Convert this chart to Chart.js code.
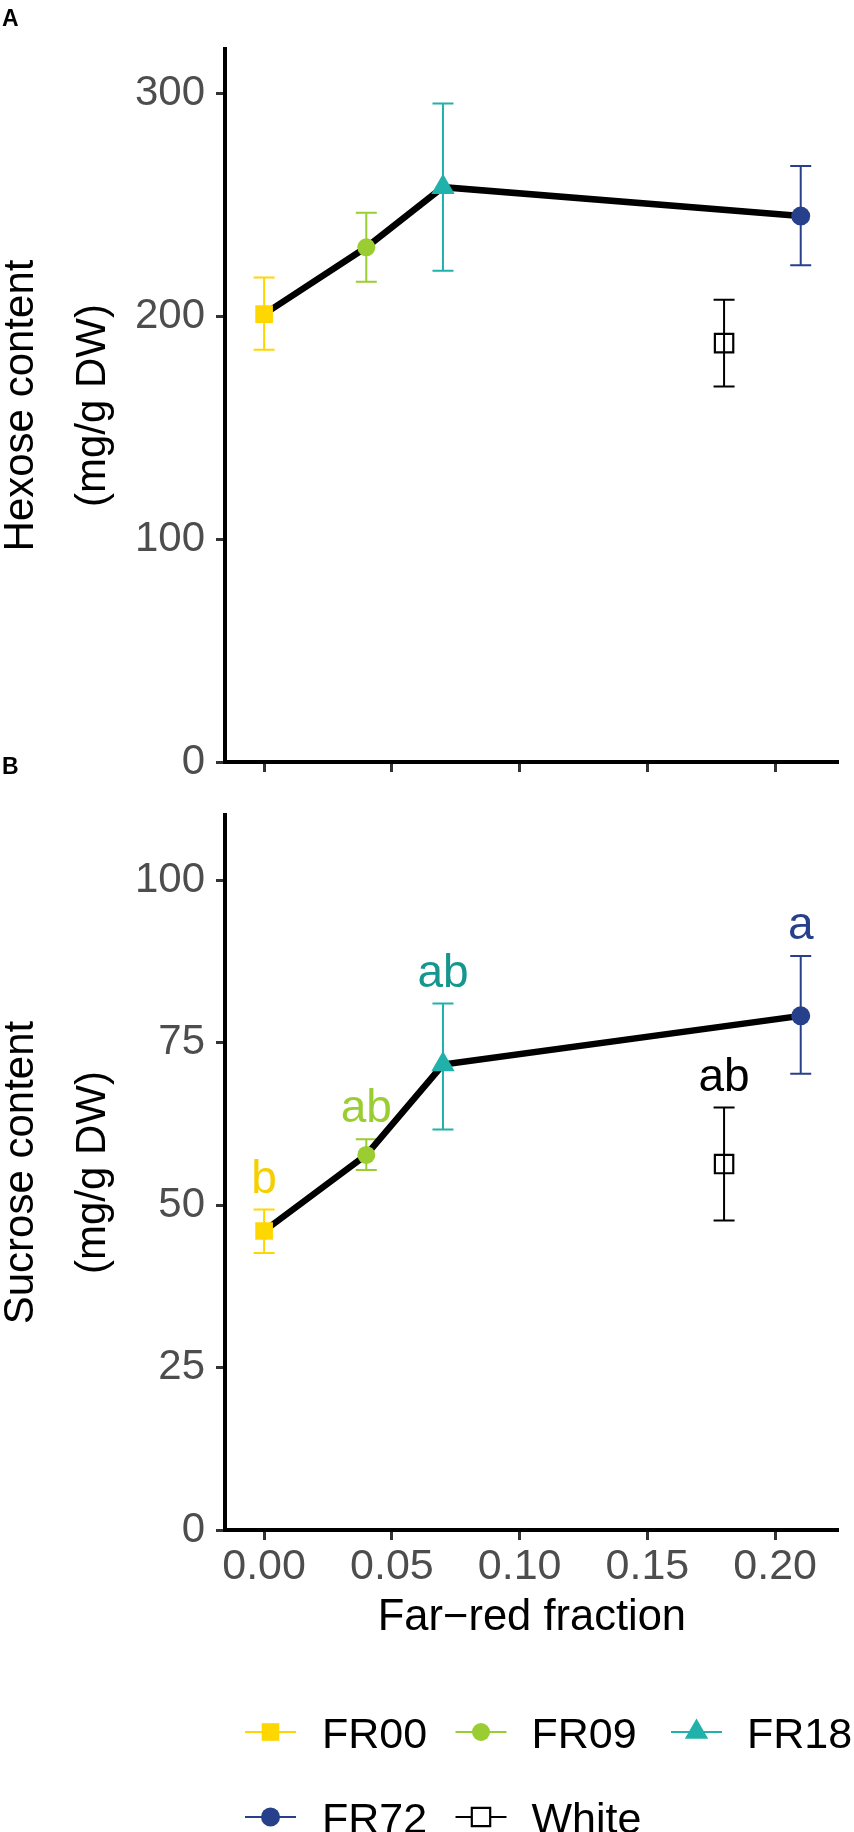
<!DOCTYPE html>
<html>
<head>
<meta charset="utf-8">
<script src="https://cdn.jsdelivr.net/npm/chart.js@4.4.0/dist/chart.umd.min.js"></script>
<style>
  html, body { margin: 0; padding: 0; background: #ffffff; }
  #wrap { position: relative; width: 854px; height: 1832px; overflow: hidden; }
  canvas { position: absolute; left: 0; top: 0; }
</style>
</head>
<body>
<div id="wrap">
  <canvas id="chartA" width="854" height="1832"></canvas>
  <canvas id="chartB" width="854" height="1832"></canvas>
</div>
<script>
// ---------------- data ----------------
const treatments = ['FR00', 'FR09', 'FR18', 'FR72', 'White'];
const farRedFraction = [0.00, 0.04, 0.07, 0.21, 0.18];

const hexoseMean = [201, 231, 258, 245, 188];
const hexoseLower = [185, 215.5, 220.5, 223, 168.5];
const hexoseUpper = [217.5, 246.5, 295.5, 267.5, 207.5];

const sucroseMean = [46.0, 57.7, 71.6, 79.1, 56.3];
const sucroseLower = [42.6, 55.4, 61.6, 70.2, 47.6];
const sucroseUpper = [49.3, 60.1, 81.0, 88.3, 65.0];
const sucroseLetters = ['b', 'ab', 'ab', 'a', 'ab'];

// treatments joined by the black line (far-red series)
const lineSeries = ['FR00', 'FR09', 'FR18', 'FR72'];

const hexoseTicks = [0, 100, 200, 300];
const sucroseTicks = [0, 25, 50, 75, 100];
const fractionTicks = [0.00, 0.05, 0.10, 0.15, 0.20];

// ---------------- styles ----------------
const FONT = "'Liberation Sans', Arial, Helvetica, sans-serif";
const seriesColors = ['#FFD700', '#9ACD32', '#20B2AA', '#27408B', '#000000'];
const letterColors = ['#F5CF00', '#9ACD32', '#15968E', '#27408B', '#000000'];
const pointStyles = ['rect', 'circle', 'triangle', 'circle', 'rect'];
const pointRadii = [12.5, 9, 13.5, 9.5, 13];
const pointFills = ['#FFD700', '#9ACD32', '#20B2AA', '#27408B', 'rgba(0,0,0,0)'];
const pointBorders = [0, 0, 0, 0, 2.2];

Chart.defaults.font.family = FONT;

function pointDatasets(means) {
  return treatments.map((t, i) => ({
    type: 'scatter',
    label: t,
    data: [{ x: farRedFraction[i], y: means[i] }],
    pointStyle: pointStyles[i],
    pointRadius: pointRadii[i],
    pointHoverRadius: pointRadii[i],
    backgroundColor: pointFills[i],
    borderColor: seriesColors[i],
    borderWidth: pointBorders[i],
    order: 1
  }));
}

function lineDataset(means) {
  const pts = lineSeries.map(t => {
    const i = treatments.indexOf(t);
    return { x: farRedFraction[i], y: means[i] };
  }).sort((a, b) => a.x - b.x);
  return {
    type: 'line',
    label: 'line',
    data: pts,
    borderColor: '#000000',
    borderWidth: 6.5,
    pointRadius: 0,
    fill: false,
    tension: 0,
    order: 10
  };
}

function errorBarPlugin(lower, upper) {
  return {
    id: 'errorbars',
    beforeDatasetsDraw(chart) {
      const { ctx, scales: { x, y } } = chart;
      ctx.save();
      ctx.lineWidth = 2;
      ctx.lineCap = 'butt';
      treatments.forEach((t, i) => {
        const px = x.getPixelForValue(farRedFraction[i]);
        const pLo = y.getPixelForValue(lower[i]);
        const pHi = y.getPixelForValue(upper[i]);
        ctx.strokeStyle = seriesColors[i];
        ctx.beginPath();
        ctx.moveTo(px, pLo); ctx.lineTo(px, pHi);
        ctx.moveTo(px - 10.5, pHi); ctx.lineTo(px + 10.5, pHi);
        ctx.moveTo(px - 10.5, pLo); ctx.lineTo(px + 10.5, pLo);
        ctx.stroke();
      });
      ctx.restore();
    }
  };
}

function yTitlePlugin(lines, panelLabel, labelY) {
  return {
    id: 'ytitle',
    afterDraw(chart) {
      const { ctx, chartArea } = chart;
      const cy = (chartArea.top + chartArea.bottom) / 2;
      ctx.save();
      ctx.fillStyle = '#000000';
      ctx.font = '42px ' + FONT;
      ctx.textAlign = 'center';
      ctx.textBaseline = 'alphabetic';
      ctx.translate(33, cy);
      ctx.rotate(-Math.PI / 2);
      ctx.fillText(lines[0], 0, 0);
      ctx.fillText(lines[1], 0, 72);
      ctx.restore();
      ctx.save();
      ctx.fillStyle = '#000000';
      ctx.font = 'bold 23px ' + FONT;
      ctx.textAlign = 'left';
      ctx.textBaseline = 'alphabetic';
      ctx.fillText(panelLabel, 2, labelY);
      ctx.restore();
    }
  };
}

function yScale(min, max, ticks) {
  return {
    type: 'linear',
    min: min,
    max: max,
    afterFit(s) { s.width = 225; },
    afterBuildTicks(s) { s.ticks = ticks.map(v => ({ value: v })); },
    border: { display: true, color: '#000000', width: 4 },
    grid: { display: true, drawOnChartArea: false, drawTicks: true, tickLength: 9, tickWidth: 3, tickColor: '#333333' },
    ticks: { color: '#4D4D4D', font: { size: 42, family: FONT }, padding: 11 }
  };
}

function xScale(showLabels, height) {
  return {
    type: 'linear',
    min: -0.0153,
    max: 0.2249,
    afterFit(s) { s.height = height; },
    afterBuildTicks(s) { s.ticks = fractionTicks.map(v => ({ value: v })); },
    border: { display: true, color: '#000000', width: 4 },
    grid: { display: true, drawOnChartArea: false, drawTicks: true, tickLength: 10, tickWidth: 3, tickColor: '#333333' },
    ticks: {
      display: showLabels,
      color: '#4D4D4D',
      font: { size: 43, family: FONT },
      padding: 1,
      maxRotation: 0,
      autoSkip: false,
      callback: v => Number(v).toFixed(2)
    }
  };
}

const commonOpts = {
  responsive: false,
  animation: false,
  devicePixelRatio: 1,
  plugins: { legend: { display: false }, tooltip: { enabled: false } },
  events: []
};

// ---------------- panel A : hexose ----------------
new Chart(document.getElementById('chartA'), {
  data: { datasets: [lineDataset(hexoseMean), ...pointDatasets(hexoseMean)] },
  options: Object.assign({}, commonOpts, {
    layout: { padding: { left: 0, top: 49, right: 7, bottom: 1010 } },
    scales: { x: xScale(false, 60), y: yScale(0, 320, hexoseTicks) }
  }),
  plugins: [errorBarPlugin(hexoseLower, hexoseUpper), yTitlePlugin(['Hexose content', '(mg/g DW)'], 'A', 26)]
});

// ---------------- panel B : sucrose ----------------
const lettersPlugin = {
  id: 'letters',
  afterDatasetsDraw(chart) {
    const { ctx, scales: { x, y } } = chart;
    ctx.save();
    ctx.font = '46px ' + FONT;
    ctx.textAlign = 'center';
    ctx.textBaseline = 'alphabetic';
    treatments.forEach((t, i) => {
      ctx.fillStyle = letterColors[i];
      ctx.fillText(sucroseLetters[i], x.getPixelForValue(farRedFraction[i]), y.getPixelForValue(sucroseUpper[i]) - 17);
    });
    ctx.restore();
  }
};

const xTitleLegendPlugin = {
  id: 'xtitlelegend',
  afterDraw(chart) {
    const { ctx, chartArea } = chart;
    ctx.save();
    ctx.fillStyle = '#000000';
    ctx.font = '43.5px ' + FONT;
    ctx.textAlign = 'center';
    ctx.textBaseline = 'alphabetic';
    ctx.fillText('Far\u2212red fraction', (chartArea.left + chartArea.right) / 2, 1630);
    ctx.restore();

    // legend (two rows: 3 + 2)
    const colKeyX = [245, 455.5, 671];
    const colTextX = [322, 531.5, 747];
    const rowY = [1732, 1817];
    treatments.forEach((t, i) => {
      const col = i % 3, row = Math.floor(i / 3);
      const x0 = colKeyX[col], x1 = x0 + 51, cx = (x0 + x1) / 2, cy = rowY[row];
      ctx.save();
      ctx.strokeStyle = seriesColors[i];
      ctx.lineWidth = 2;
      ctx.beginPath(); ctx.moveTo(x0, cy); ctx.lineTo(x1, cy); ctx.stroke();
      const st = pointStyles[i];
      const r = pointRadii[i];
      ctx.beginPath();
      if (st === 'circle') {
        ctx.arc(cx, cy, r, 0, Math.PI * 2);
      } else if (st === 'triangle') {
        for (let k = 0; k < 3; k++) {
          const a = k * 2 * Math.PI / 3;
          const px = cx + Math.sin(a) * r, py = cy - Math.cos(a) * r;
          if (k === 0) ctx.moveTo(px, py); else ctx.lineTo(px, py);
        }
        ctx.closePath();
      } else {
        const h = r * Math.SQRT1_2;
        ctx.rect(cx - h, cy - h, 2 * h, 2 * h);
      }
      if (pointBorders[i] > 0) {
        ctx.fillStyle = '#ffffff';
        ctx.fill();
        ctx.lineWidth = pointBorders[i];
        ctx.strokeStyle = seriesColors[i];
        ctx.stroke();
      } else {
        ctx.fillStyle = pointFills[i];
        ctx.fill();
      }
      ctx.fillStyle = '#000000';
      ctx.font = '43px ' + FONT;
      ctx.textAlign = 'left';
      ctx.textBaseline = 'alphabetic';
      ctx.fillText(t, colTextX[col], cy + 16);
      ctx.restore();
    });
  }
};

new Chart(document.getElementById('chartB'), {
  data: { datasets: [lineDataset(sucroseMean), ...pointDatasets(sucroseMean)] },
  options: Object.assign({}, commonOpts, {
    layout: { padding: { left: 0, top: 815, right: 7, bottom: 0 } },
    scales: { x: xScale(true, 302), y: yScale(0, 110, sucroseTicks) }
  }),
  plugins: [errorBarPlugin(sucroseLower, sucroseUpper), lettersPlugin, xTitleLegendPlugin,
            yTitlePlugin(['Sucrose content', '(mg/g DW)'], 'B', 774)]
});
</script>
</body>
</html>
